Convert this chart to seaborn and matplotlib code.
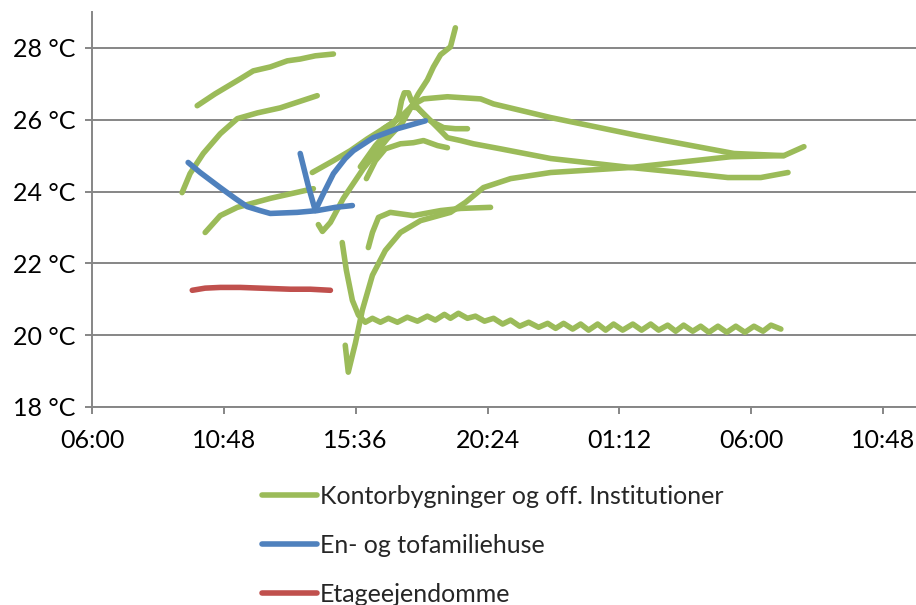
import numpy as np
import pandas as pd
import matplotlib
matplotlib.use("Agg")
import matplotlib.pyplot as plt
from matplotlib.lines import Line2D
import seaborn as sns

# time axis in hours counted from midnight of day 1 (30 = 06:00 next day)
x_ticks = [6.0, 10.8, 15.6, 20.4, 25.2, 30.0, 34.8]
x_tick_labels = ["06:00", "10:48", "15:36", "20:24", "01:12", "06:00", "10:48"]
y_ticks = [18, 20, 22, 24, 26, 28]

categories = ["Kontorbygninger og off. Institutioner", "En- og tofamiliehuse", "Etageejendomme"]
colors = ["#9BBB59", "#4F81BD", "#C0504D"]

# --- Kontorbygninger og off. Institutioner ---
k1_t = [9.83, 10.48, 11.40, 11.87, 12.49, 13.11, 13.58, 14.13, 14.79]
k1_v = [26.39, 26.72, 27.14, 27.36, 27.47, 27.64, 27.69, 27.78, 27.83]

k2_t = [9.28, 9.57, 10.05, 10.67, 11.29, 12.02, 12.85, 14.20]
k2_v = [23.97, 24.50, 25.06, 25.61, 26.03, 26.19, 26.33, 26.67]

k3_t = [10.12, 10.67, 11.29, 12.49, 14.06]
k3_v = [22.86, 23.33, 23.56, 23.81, 24.08]

k4_t = [14.02, 14.79, 15.41, 16.03, 16.61, 17.23, 17.70, 18.07, 18.94, 20.15, 20.62, 22.70, 25.87, 29.37, 31.19]
k4_v = [24.53, 24.86, 25.14, 25.47, 25.75, 26.06, 26.42, 26.58, 26.64, 26.58, 26.44, 26.06, 25.56, 25.06, 25.00]

k5_t = [14.24, 14.39, 14.68, 15.15, 15.88, 16.75, 17.30, 17.59, 17.88, 18.21, 18.43, 18.69, 19.05, 19.23]
k5_v = [23.08, 22.89, 23.14, 23.81, 24.64, 25.47, 25.92, 26.31, 26.72, 27.11, 27.47, 27.81, 28.03, 28.56]

k6_t = [15.77, 16.32, 16.86, 17.16, 17.27, 17.37, 17.52, 17.63, 17.96, 18.32, 18.80, 19.23, 19.67]
k6_v = [24.69, 25.28, 25.75, 26.11, 26.53, 26.75, 26.75, 26.53, 26.25, 25.97, 25.78, 25.75, 25.75]

k7_t = [15.99, 16.32, 16.68, 17.23, 17.70, 18.07, 18.58, 18.94]
k7_v = [24.36, 24.86, 25.19, 25.33, 25.36, 25.42, 25.28, 25.22]

k8_t = [16.61, 17.23, 17.63, 17.85, 18.21, 18.58, 18.94, 19.42, 19.89, 20.87, 22.70, 25.61, 27.44, 29.15, 30.35, 31.34]
k8_v = [25.75, 26.06, 26.36, 26.33, 26.06, 25.78, 25.50, 25.42, 25.33, 25.19, 24.92, 24.67, 24.53, 24.39, 24.39, 24.53]

k9_t = [15.22, 15.33, 15.48, 15.59, 15.84, 16.21, 16.68, 17.23, 17.96, 19.05, 19.60, 20.25, 21.24, 22.70, 25.61, 29.26, 31.19, 31.92]
k9_v = [19.72, 18.97, 19.44, 19.78, 20.69, 21.67, 22.36, 22.86, 23.19, 23.42, 23.70, 24.11, 24.36, 24.53, 24.67, 24.97, 25.00, 25.25]

k10_t = [16.06, 16.21, 16.43, 16.86, 17.70, 18.69, 19.42, 20.51]
k10_v = [22.44, 22.86, 23.28, 23.42, 23.33, 23.47, 23.53, 23.56]

k11_t = [15.11, 15.26, 15.48, 15.70, 15.95, 16.21, 16.50, 16.79, 17.12, 17.48, 17.85, 18.21, 18.50,
         18.83, 19.05, 19.34, 19.67, 19.96, 20.29, 20.62, 20.95, 21.24, 21.57, 21.90, 22.26, 22.59,
         22.88, 23.17, 23.50, 23.79, 24.08, 24.41, 24.70, 24.99, 25.32, 25.69, 26.01, 26.34, 26.63,
         26.96, 27.25, 27.54, 27.87, 28.16, 28.46, 28.79, 29.11, 29.44, 29.77, 30.10, 30.43, 30.72, 31.08]
k11_v = [22.58, 21.81, 20.97, 20.56, 20.36, 20.47, 20.36, 20.47, 20.36, 20.50, 20.39, 20.53, 20.42,
         20.58, 20.47, 20.61, 20.47, 20.53, 20.39, 20.47, 20.31, 20.42, 20.25, 20.36, 20.22, 20.33,
         20.19, 20.33, 20.17, 20.31, 20.14, 20.31, 20.14, 20.31, 20.14, 20.31, 20.14, 20.31, 20.14,
         20.28, 20.11, 20.28, 20.11, 20.25, 20.08, 20.25, 20.08, 20.25, 20.08, 20.25, 20.11, 20.28, 20.17]

# --- En- og tofamiliehuse ---
e1_t = [9.50, 9.94, 10.67, 11.21, 11.65, 12.12, 12.49, 13.47, 14.20, 14.86, 15.48]
e1_v = [24.81, 24.53, 24.11, 23.81, 23.58, 23.47, 23.39, 23.42, 23.47, 23.56, 23.61]

e2_t = [13.58, 13.87, 14.13, 14.39, 14.79, 15.22, 15.52, 16.24, 17.12, 18.14]
e2_v = [25.06, 24.17, 23.47, 23.89, 24.50, 24.92, 25.14, 25.50, 25.75, 25.97]

# --- Etageejendomme ---
f1_t = [9.65, 10.12, 10.67, 11.40, 12.12, 13.22, 13.95, 14.68]
f1_v = [21.25, 21.31, 21.33, 21.33, 21.31, 21.28, 21.28, 21.25]

series = [
    (categories[0], "k1", k1_t, k1_v), (categories[0], "k2", k2_t, k2_v),
    (categories[0], "k3", k3_t, k3_v), (categories[0], "k4", k4_t, k4_v),
    (categories[0], "k5", k5_t, k5_v), (categories[0], "k6", k6_t, k6_v),
    (categories[0], "k7", k7_t, k7_v), (categories[0], "k8", k8_t, k8_v),
    (categories[0], "k9", k9_t, k9_v), (categories[0], "k10", k10_t, k10_v),
    (categories[0], "k11", k11_t, k11_v),
    (categories[1], "e1", e1_t, e1_v), (categories[1], "e2", e2_t, e2_v),
    (categories[2], "f1", f1_t, f1_v),
]

rows = []
for cat, bid, ts, vs in series:
    for t, v in zip(ts, vs):
        rows.append({"tid": t, "temp": v, "type": cat, "building": bid})
df = pd.DataFrame(rows)

sns.set_theme(style="white")
plt.rcParams["font.family"] = ["Lato", "DejaVu Sans"]

fig = plt.figure(figsize=(9.16, 6.05), dpi=100)
ax = fig.add_axes([92 / 916, 1 - 407 / 605, 1 - 92 / 916, (407 - 12) / 605])

sns.lineplot(data=df, x="tid", y="temp", hue="type", units="building", estimator=None,
             sort=False, palette=dict(zip(categories, colors)), linewidth=4,
             legend=False, ax=ax, solid_capstyle="round", solid_joinstyle="round")

grid_c = "#868686"
ax.set_xlim(6, 36)
ax.set_ylim(18, 29)
ax.set_xticks(x_ticks)
ax.set_xticklabels(x_tick_labels)
ax.set_yticks(y_ticks)
ax.set_yticklabels([f"{v} °C" for v in y_ticks])
ax.set_xlabel("")
ax.set_ylabel("")
ax.yaxis.grid(True, color=grid_c, linewidth=1.4)
ax.xaxis.grid(False)
ax.set_axisbelow(True)
for s in ["top", "right"]:
    ax.spines[s].set_visible(False)
for s in ["left", "bottom"]:
    ax.spines[s].set_color(grid_c)
    ax.spines[s].set_linewidth(1.4)
ax.tick_params(axis="both", which="major", direction="out", length=5, width=1.4,
               color=grid_c, labelsize=18, labelcolor="black")
ax.tick_params(axis="x", pad=11, bottom=True)
ax.tick_params(axis="y", pad=7, left=True)

handles = [Line2D([0], [0], color=c, linewidth=4) for c in colors]
fig.legend(handles, categories, loc="upper left", bbox_to_anchor=(262 / 916, 1 - 485 / 605),
           frameon=False, fontsize=18, handlelength=2.2, handletextpad=0.1,
           labelspacing=1.03, borderpad=0, borderaxespad=0)

fig.savefig("out.png", dpi=100)
